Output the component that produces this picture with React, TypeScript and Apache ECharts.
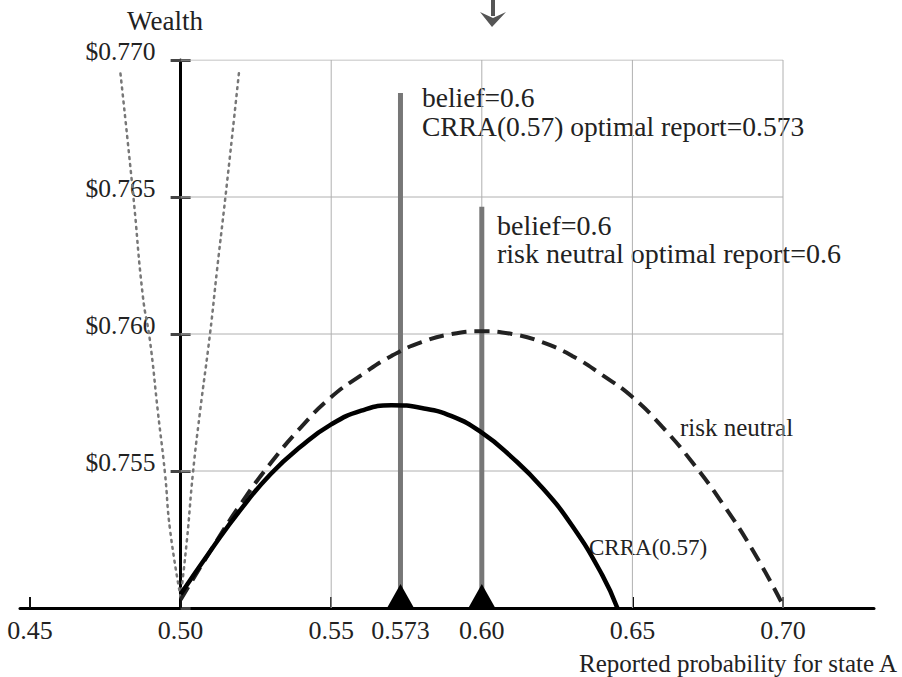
import React, { useEffect, useRef } from "react";
import * as echarts from "echarts";

// Axis ticks / labels
const xLabelValues = [0.45, 0.5, 0.55, 0.573, 0.6, 0.65, 0.7];
const xTickValues = [0.45, 0.5, 0.55, 0.6, 0.65, 0.7];

// Grid lines (only inside the 0.50-0.70 / 0.750-0.770 box)
const gridXValues = [0.55, 0.6, 0.65, 0.7];
const gridYValues = [0.755, 0.76, 0.765, 0.77];

// Risk neutral (dashed) curve
const riskNeutralX = [0.5, 0.51, 0.52, 0.53, 0.54, 0.55, 0.56, 0.57, 0.58, 0.59, 0.6, 0.61, 0.62, 0.63, 0.64, 0.65, 0.66, 0.67, 0.68, 0.69, 0.7];
const riskNeutralY = [0.7503, 0.7521, 0.7538, 0.7553, 0.7566, 0.7577, 0.7585, 0.7592, 0.7597, 0.76, 0.7601, 0.76, 0.7597, 0.7592, 0.7585, 0.7577, 0.7566, 0.7553, 0.7538, 0.7521, 0.7501];

// CRRA(0.57) (solid) curve
const crraX = [0.5, 0.51, 0.52, 0.53, 0.54, 0.55, 0.56, 0.57, 0.58, 0.59, 0.6, 0.61, 0.62, 0.63, 0.64, 0.645];
const crraY = [0.7505, 0.7521, 0.7536, 0.7549, 0.7559, 0.7567, 0.7572, 0.7574, 0.7573, 0.757, 0.7564, 0.7555, 0.7544, 0.753, 0.7512, 0.75];

// Dotted curves
const dotLeftX = [0.5, 0.4965, 0.4948, 0.4925, 0.4898, 0.4875, 0.4842, 0.4799];
const dotLeftY = [0.7504, 0.75285, 0.75493, 0.75712, 0.75978, 0.76135, 0.76515, 0.76964];
const dotRightX = [0.5, 0.5021, 0.5041, 0.5064, 0.5098, 0.5121, 0.5154, 0.5194];
const dotRightY = [0.7504, 0.75248, 0.75493, 0.75712, 0.76004, 0.76234, 0.76551, 0.76956];

// Optimal report markers
const reportX = [0.573, 0.6];
const reportTop = [0.7688, 0.76464];

const X_MIN = 0.44668;
const X_MAX = 0.73021;
const Y_MIN = 0.75;
const Y_MAX = 0.77;

const FONT = "'Liberation Serif', 'DejaVu Serif', serif";

const zip = (xs: number[], ys: number[]) => xs.map((x, i) => [x, ys[i]]);

export default function App() {
  const ref = useRef<HTMLDivElement>(null);

  useEffect(() => {
    document.body.style.margin = "0";
    const chart = echarts.init(ref.current!, null, { renderer: "svg" });

    const gridSeries: any[] = [
      ...gridYValues.map((y) => ({
        type: "line",
        data: [[0.5, y], [0.7, y]],
        symbol: "none",
        silent: true,
        lineStyle: { color: "#b0b0b0", width: 1 },
        z: 1,
      })),
      ...gridXValues.map((x) => ({
        type: "line",
        data: [[x, Y_MIN], [x, Y_MAX]],
        symbol: "none",
        silent: true,
        lineStyle: { color: "#b0b0b0", width: 1 },
        z: 1,
      })),
    ];

    const barSeries = reportX.map((x, i) => ({
      type: "line",
      data: [[x, Y_MIN], [x, reportTop[i]]],
      symbol: "none",
      silent: true,
      lineStyle: { color: "#777", width: 5 },
      z: 2,
    }));

    const option: any = {
      animation: false,
      backgroundColor: "#fff",
      grid: {
        left: 20,
        right: 28,
        top: 60,
        bottom: 69,
        containLabel: false,
        outerBoundsMode: "none",
      },
      xAxis: {
        type: "value",
        min: X_MIN,
        max: X_MAX,
        axisLine: { show: true, onZero: false, lineStyle: { color: "#000", width: 3 } },
        axisTick: {
          show: true,
          inside: true,
          length: 11,
          customValues: xTickValues,
          lineStyle: { color: "#111", width: 2 },
        },
        axisLabel: {
          show: true,
          customValues: xLabelValues,
          margin: 9,
          color: "#222",
          fontFamily: FONT,
          fontSize: 26,
          formatter: (v: number) => (Math.abs(v - 0.573) < 1e-6 ? "0.573" : v.toFixed(2)),
        },
        splitLine: { show: false },
      },
      yAxis: [
        {
          type: "value",
          min: Y_MIN,
          max: Y_MAX,
          interval: 0.005,
          position: "left",
          offset: -160.6,
          axisLine: { show: true, lineStyle: { color: "#000", width: 3 } },
          axisTick: { show: true, inside: false, length: 10, lineStyle: { color: "#444", width: 3 } },
          axisLabel: {
            show: true,
            showMinLabel: false,
            margin: 25,
            color: "#222",
            fontFamily: FONT,
            fontSize: 25.5,
            verticalAlign: "bottom",
            lineHeight: 17,
            formatter: (v: number) => "$" + v.toFixed(3),
          },
          splitLine: { show: false },
        },
        {
          type: "value",
          min: Y_MIN,
          max: Y_MAX,
          interval: 0.005,
          position: "left",
          offset: -160.6,
          axisLine: { show: false },
          axisTick: { show: true, inside: true, length: 10, lineStyle: { color: "#444", width: 3 } },
          axisLabel: { show: false },
          splitLine: { show: false },
        },
      ],
      series: [
        ...gridSeries,
        ...barSeries,
        {
          name: "dotted left",
          type: "line",
          data: zip(dotLeftX, dotLeftY),
          smooth: true,
          symbol: "none",
          lineStyle: { color: "#777", width: 2.5, type: [2, 5], cap: "round" },
          z: 3,
        },
        {
          name: "dotted right",
          type: "line",
          data: zip(dotRightX, dotRightY),
          smooth: true,
          symbol: "none",
          lineStyle: { color: "#777", width: 2.5, type: [2, 5], cap: "round" },
          z: 3,
        },
        {
          name: "risk neutral",
          type: "line",
          data: zip(riskNeutralX, riskNeutralY),
          smooth: true,
          symbol: "none",
          lineStyle: { color: "#222", width: 4, type: [15, 8] },
          z: 4,
        },
        {
          name: "CRRA(0.57)",
          type: "line",
          data: zip(crraX, crraY),
          smooth: true,
          symbol: "none",
          lineStyle: { color: "#000", width: 4.5 },
          z: 5,
        },
        {
          name: "optimal reports",
          type: "scatter",
          data: reportX.map((x) => [x, Y_MIN]),
          symbol: "triangle",
          symbolSize: [27, 24],
          symbolOffset: [0, -12],
          itemStyle: { color: "#000", opacity: 1 },
          z: 10,
        },
      ],
      graphic: [
        {
          type: "text",
          x: 165,
          y: 21,
          style: {
            text: "Wealth",
            fontFamily: FONT,
            fontSize: 27,
            fill: "#222",
            textAlign: "center",
            textVerticalAlign: "middle",
          },
        },
        {
          type: "text",
          x: 422,
          y: 83,
          style: {
            text: "belief=0.6\nCRRA(0.57) optimal report=0.573",
            fontFamily: FONT,
            fontSize: 27.5,
            lineHeight: 29,
            fill: "#222",
            textAlign: "left",
            textVerticalAlign: "top",
          },
        },
        {
          type: "text",
          x: 497,
          y: 211,
          style: {
            text: "belief=0.6\nrisk neutral optimal report=0.6",
            fontFamily: FONT,
            fontSize: 28,
            lineHeight: 28,
            fill: "#222",
            textAlign: "left",
            textVerticalAlign: "top",
          },
        },
        {
          type: "text",
          x: 680,
          y: 427,
          style: {
            text: "risk neutral",
            fontFamily: FONT,
            fontSize: 25,
            fill: "#222",
            textAlign: "left",
            textVerticalAlign: "middle",
          },
        },
        {
          type: "text",
          x: 589,
          y: 547,
          style: {
            text: "CRRA(0.57)",
            fontFamily: FONT,
            fontSize: 23,
            fill: "#222",
            textAlign: "left",
            textVerticalAlign: "middle",
          },
        },
        {
          type: "text",
          x: 897,
          y: 663,
          style: {
            text: "Reported probability for state A",
            fontFamily: FONT,
            fontSize: 25,
            fill: "#222",
            textAlign: "right",
            textVerticalAlign: "middle",
          },
        },
        {
          type: "line",
          shape: { x1: 493, y1: 0, x2: 493, y2: 16 },
          style: { stroke: "#555", lineWidth: 4 },
        },
        {
          type: "polygon",
          shape: { points: [[480, 12], [493, 18], [506, 12], [492, 27]] },
          style: { fill: "#555" },
        },
      ],
    };

    chart.setOption(option);
    return () => chart.dispose();
  }, []);

  return <div ref={ref} style={{ width: 902, height: 677 }} />;
}
